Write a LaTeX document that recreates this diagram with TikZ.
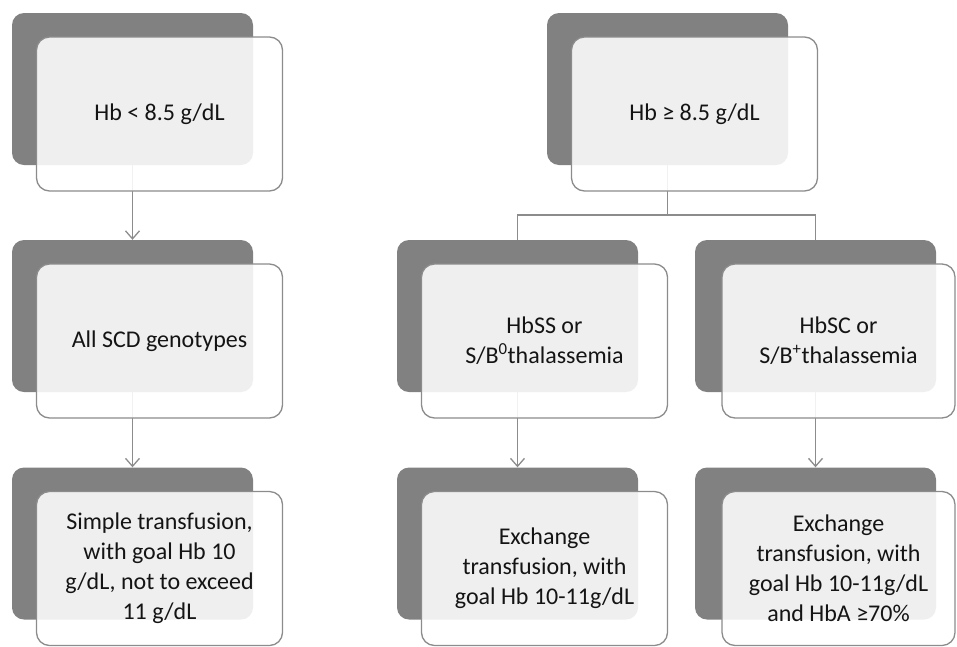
\documentclass[tikz,border=0pt]{standalone}
\usepackage{fontspec}
\setmainfont{Carlito}
\usetikzlibrary{arrows.meta}
\definecolor{shadegray}{HTML}{818181}
\definecolor{linegray}{HTML}{8C8C8C}
\definecolor{textgray}{HTML}{141414}

\begin{document}
\begin{tikzpicture}[x=1pt, y=1pt,
		backbox/.style={rounded corners=12pt, fill=shadegray, minimum width=241pt, minimum height=152pt, inner sep=0pt},
		frontbox/.style={draw=linegray, line width=1.3pt, rounded corners=13pt, fill=white, fill opacity=0.88, text opacity=1,
				minimum width=246pt, minimum height=154pt, inner sep=0pt, align=center, text=textgray,
				font=\fontsize{24}{30}\selectfont},
		link/.style={draw=linegray, line width=1.3pt},
		arrow/.style={link, -{Straight Barb[length=8pt, width=14pt]}}]
	\useasboundingbox (0,0) rectangle (957,-646);

	% shaded boxes behind
	\foreach \n/\x/\y in {lowhb/132.5/-89, allscd/132.5/-316, simple/132.5/-543.5,
			highhb/667.5/-89, hbss/517.5/-316, hbsc/815.5/-316, exss/517.5/-543.5, exsc/815.5/-543.5} {
			\node[backbox] (\n-back) at (\x, \y) {};
		}

	% connectors
	\draw[arrow] (lowhb-back) -- (allscd-back);
	\draw[arrow] (allscd-back) -- (simple-back);
	\coordinate (split) at (highhb-back.south |- 0,-215);
	\draw[link] (highhb-back.south) -- (split);
	\draw[link] (hbss-back.north) |- (split) -| (hbsc-back.north);
	\draw[arrow] (hbss-back) -- (exss-back);
	\draw[arrow] (hbsc-back) -- (exsc-back);

	% boxes in front
	\node[frontbox] (lowhb) at ([shift={(27pt,-25pt)}]lowhb-back.center) {Hb < 8.5 g/dL};
	\node[frontbox] (allscd) at ([shift={(27pt,-25pt)}]allscd-back.center) {All SCD genotypes};
	\node[frontbox] (simple) at ([shift={(27pt,-25pt)}]simple-back.center) {Simple transfusion,\\ with goal Hb 10\\ g/dL, not to exceed\\ 11 g/dL};
	\node[frontbox] (highhb) at ([shift={(27pt,-25pt)}]highhb-back.center) {Hb ≥ 8.5 g/dL};
	\node[frontbox] (hbss) at ([shift={(27pt,-25pt)}]hbss-back.center) {HbSS or\\ S/B\textsuperscript{0}thalassemia};
	\node[frontbox, minimum width=233pt] (hbsc) at ([shift={(23pt,-25pt)}]hbsc-back.center) {HbSC or\\ S/B\textsuperscript{+}thalassemia};
	\node[frontbox] (exss) at ([shift={(27pt,-25pt)}]exss-back.center) {Exchange\\ transfusion, with\\ goal Hb 10-11g/dL};
	\node[frontbox, minimum width=233pt] (exsc) at ([shift={(23pt,-25pt)}]exsc-back.center) {Exchange\\ transfusion, with\\ goal Hb 10-11g/dL\\ and HbA ≥70\%};
\end{tikzpicture}
\end{document}
